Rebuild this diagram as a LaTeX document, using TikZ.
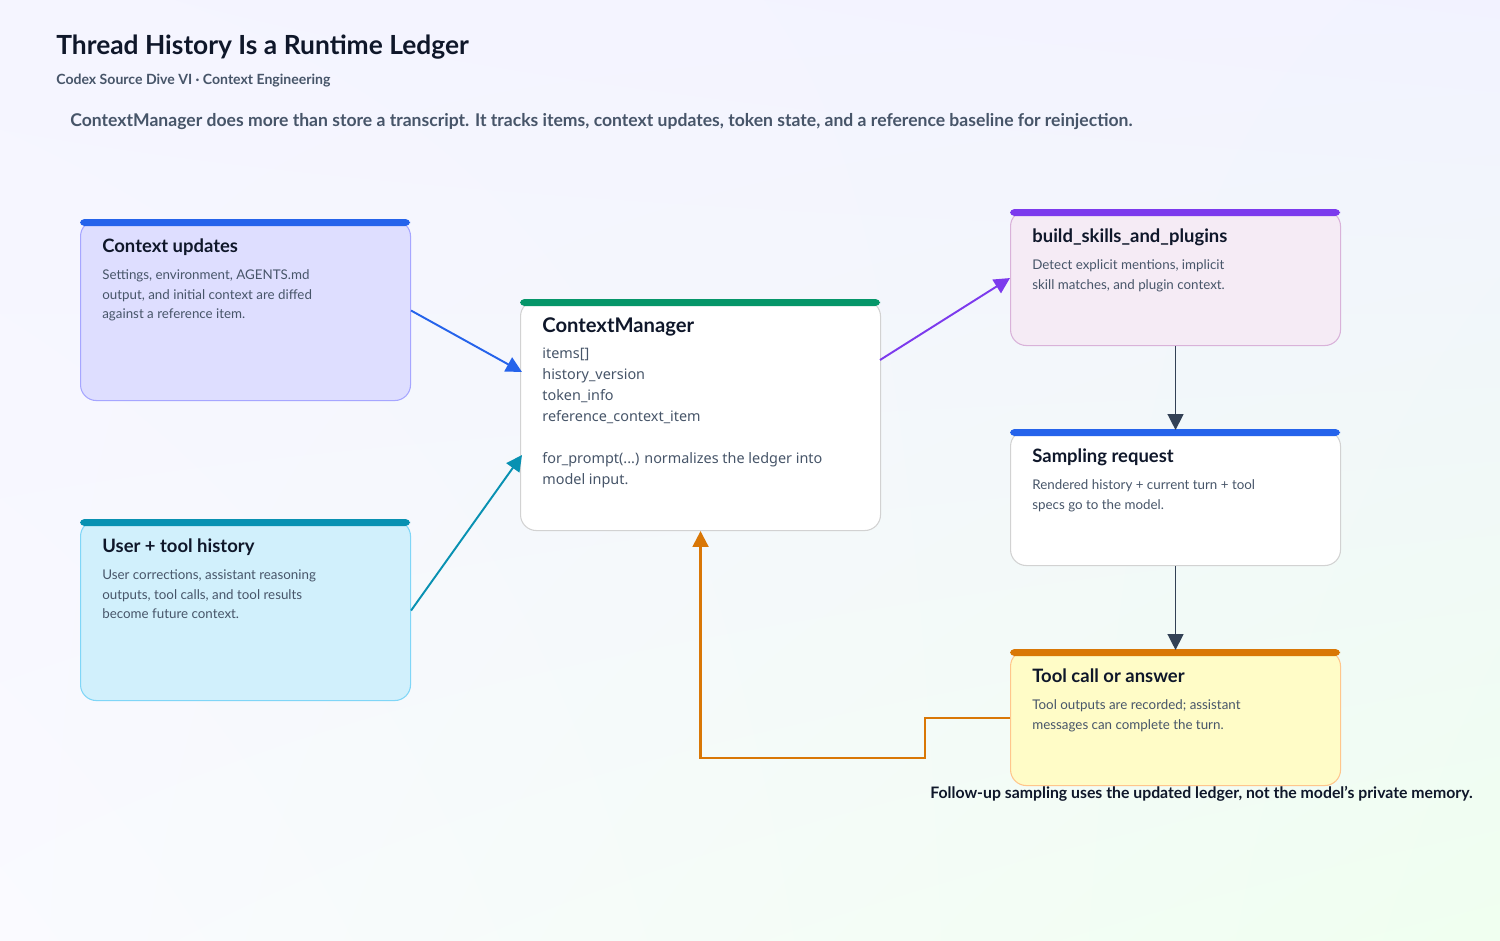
\documentclass[tikz,border=0pt]{standalone}
\usepackage{fontspec}
\setmainfont{Noto Sans}
\newfontfamily\uifont{Lato}
\usetikzlibrary{positioning,arrows.meta,calc,shadings}

\definecolor{ink}{HTML}{0F172A}
\definecolor{muted}{HTML}{475569}
\definecolor{slate}{HTML}{334155}
\definecolor{cblue}{HTML}{2563EB}
\definecolor{cteal}{HTML}{0891B2}
\definecolor{cgreen}{HTML}{059669}
\definecolor{cpurple}{HTML}{7C3AED}
\definecolor{corange}{HTML}{D97706}

\tikzset{
  card/.style={draw=#1, line width=0.6pt, rounded corners=9pt, anchor=north west, inner sep=0pt},
  bar/.style={fill=#1, rounded corners=2.5pt},
  cardtitle/.style={anchor=north west, inner sep=0pt, text=ink, font=\uifont\bfseries\fontsize{10.5}{12}\selectfont},
  cardbody/.style={anchor=north west, inner sep=0pt, text=muted, align=left, font=\uifont\fontsize{7.6}{11.3}\selectfont},
  link/.style={line width=1.1pt, draw=#1, -{Triangle[length=9pt,width=9pt,fill=#1]}}
}

\begin{document}
\begin{tikzpicture}[x=0.02cm, y=-0.02cm]
\useasboundingbox (0,0) rectangle (1500,940);
\shade[upper left=blue!4!white, upper right=blue!5!white, lower left=blue!2!white, lower right=green!6!white] (0,0) rectangle (1500,940);

% header
\node[anchor=west, inner sep=0pt, text=ink, font=\uifont\bfseries\fontsize{15}{18}\selectfont] (title) at (56,47) {Thread History Is a Runtime Ledger};
\node[anchor=west, inner sep=0pt, text=muted, font=\uifont\bfseries\fontsize{8}{10}\selectfont] (subtitle) at (56,81) {Codex Source Dive VI · Context Engineering};
\node[anchor=west, inner sep=0pt, text=muted, font=\uifont\bfseries\fontsize{10}{12}\selectfont] (lede) at (70,122) {ContextManager does more than store a transcript. It tracks items, context updates, token state, and a reference baseline for reinjection.};

% cards
\node[card=blue!35, fill=blue!13, minimum width=330*0.02cm, minimum height=180*0.02cm] (updates) at (80,220) {};
\node[card=cyan!50, fill=cyan!18, minimum width=330*0.02cm, minimum height=180*0.02cm] (history) at (80,520) {};
\node[card=gray!35, fill=white, minimum width=360*0.02cm, minimum height=230*0.02cm] (manager) at (520,300) {};
\node[card=violet!30, fill=violet!8, minimum width=330*0.02cm, minimum height=135*0.02cm] (skills) at (1010,210) {};
\node[card=gray!35, fill=white, minimum width=330*0.02cm, minimum height=135*0.02cm] (sampling) at (1010,430) {};
\node[card=orange!45, fill=yellow!22, minimum width=330*0.02cm, minimum height=135*0.02cm] (answer) at (1010,650) {};

% top bars
\fill[bar=cblue] (80,219) rectangle (410,226);
\fill[bar=cteal] (80,519) rectangle (410,526);
\fill[bar=cgreen] (520,299) rectangle (880,306);
\fill[bar=cpurple] (1010,209) rectangle (1340,216);
\fill[bar=cblue] (1010,429) rectangle (1340,436);
\fill[bar=corange] (1010,649) rectangle (1340,656);

% card texts
\node[cardtitle] (updates-t) at (102,238) {Context updates};
\node[cardbody] (updates-b) at (102,269) {Settings, environment, AGENTS.md\\output, and initial context are diffed\\against a reference item.};
\node[cardtitle] (history-t) at (102,538) {User + tool history};
\node[cardbody] (history-b) at (102,569) {User corrections, assistant reasoning\\outputs, tool calls, and tool results\\become future context.};
\node[cardtitle, font=\uifont\bfseries\fontsize{11.5}{13}\selectfont] (manager-t) at (542,317) {ContextManager};
\node[cardbody, font=\fontsize{8.2}{11.9}\selectfont] (manager-b) at (542,348) {items[]\\history\_version\\token\_info\\reference\_context\_item\\[11.9pt]for\_prompt(...) normalizes the ledger into\\model input.};
\node[cardtitle] (skills-t) at (1032,228) {build\_skills\_and\_plugins};
\node[cardbody] (skills-b) at (1032,259) {Detect explicit mentions, implicit\\skill matches, and plugin context.};
\node[cardtitle] (sampling-t) at (1032,448) {Sampling request};
\node[cardbody] (sampling-b) at (1032,479) {Rendered history + current turn + tool\\specs go to the model.};
\node[cardtitle] (answer-t) at (1032,668) {Tool call or answer};
\node[cardbody] (answer-b) at (1032,699) {Tool outputs are recorded; assistant\\messages can complete the turn.};

\node[anchor=west, inner sep=0pt, text=ink, font=\uifont\bfseries\fontsize{9}{11}\selectfont] (note) at (930,794) {Follow-up sampling uses the updated ledger, not the model’s private memory.};

% connectors
\coordinate (manager-in1) at (522,372);
\coordinate (manager-in2) at (522,455);
\coordinate (manager-out) at (880,360);
\draw[link=cblue] (updates.east) -- (manager-in1);
\draw[link=cteal] (history.east) -- (manager-in2);
\draw[link=cpurple] (manager-out) -- (skills.west);
\draw[link=slate, line width=0.8pt] (skills.south) -- (sampling.north);
\draw[link=slate, line width=0.8pt] (sampling.south) -- (answer.north);
\draw[link=corange, line width=1.3pt] (answer.west) -- ++(-85,0) -- ++(0,40) -| (manager.south);

\end{tikzpicture}
\end{document}
